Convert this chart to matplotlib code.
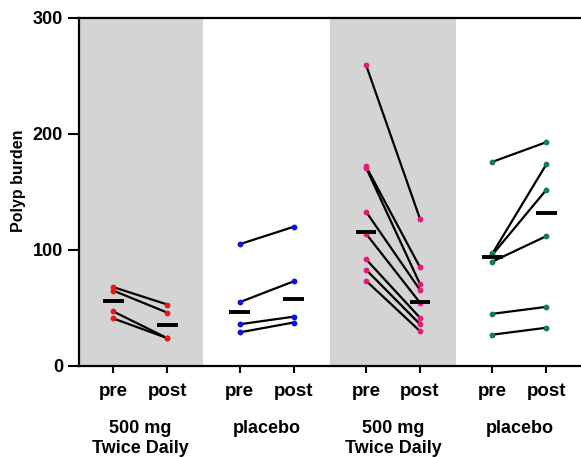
import matplotlib
matplotlib.use("Agg")
import matplotlib.pyplot as plt

plt.rcParams['font.family'] = ['Liberation Sans', 'DejaVu Sans']
plt.rcParams['font.weight'] = 'bold'

# ---- data ----
group_labels = ["500 mg\nTwice Daily", "placebo", "500 mg\nTwice Daily", "placebo"]
tick_labels = ["pre", "post"]

g1_pre = [68, 65, 47, 41]
g1_post = [53, 46, 24, 24]
g2_pre = [105, 55, 36, 29]
g2_post = [120, 73, 42.5, 37.5]
g3_pre = [259.5, 172, 171, 133, 114, 92, 83, 73.5]
g3_post = [126.7, 85, 70.5, 65.5, 54.5, 41.5, 36, 30]
g4_pre = [176, 97, 96, 90, 45, 27]
g4_post = [193, 174, 152, 112, 51, 33]

median_pre = [56, 46.5, 115.8, 93.7]
median_post = [35.5, 58, 55.2, 132.2]

colors = ["#f01414", "#1010e0", "#e61a7c", "#177a50"]
shaded = [True, False, True, False]

pres = [g1_pre, g2_pre, g3_pre, g4_pre]
posts = [g1_post, g2_post, g3_post, g4_post]

# ---- layout ----
W, H = 581, 457
fig = plt.figure(figsize=(W / 100, H / 100), dpi=100)
ax = fig.add_axes([79 / W, (H - 366) / H, (W - 79) / W, (366 - 18) / H])

step = 2.34
xmin, xmax = -0.635, 8.66
ax.set_xlim(xmin, xmax)
ax.set_ylim(0, 300)

xticks = []
xticklabels = []
for g in range(4):
    x0 = g * step
    x1 = x0 + 1
    if shaded[g]:
        ax.axvspan(x0 - 0.67, x0 + 1.667, color="#d4d4d4", lw=0, zorder=0)
    for a, b in zip(pres[g], posts[g]):
        ax.plot([x0, x1], [a, b], color="black", lw=1.6, zorder=2,
                solid_capstyle="butt")
    ax.plot([x0] * len(pres[g]), pres[g], 'o', color=colors[g], ms=4.2,
            mec='none', zorder=3)
    ax.plot([x1] * len(posts[g]), posts[g], 'o', color=colors[g], ms=4.2,
            mec='none', zorder=3)
    hw = 0.19
    ax.plot([x0 - hw, x0 + hw], [median_pre[g]] * 2, color="black", lw=2.8,
            zorder=4, solid_capstyle="butt")
    ax.plot([x1 - hw, x1 + hw], [median_post[g]] * 2, color="black", lw=2.8,
            zorder=4, solid_capstyle="butt")
    xticks += [x0, x1]
    xticklabels += tick_labels
    ax.text(x0 + 0.5, -46.5, group_labels[g], ha="center", va="top",
            fontsize=13, fontweight="bold", linespacing=1.2)

ax.set_xticks(xticks)
ax.set_xticklabels(xticklabels, fontsize=13.5, fontweight="bold")
ax.set_yticks([0, 100, 200, 300])
ax.set_yticklabels(["0", "100", "200", "300"], fontsize=13, fontweight="bold")
ax.tick_params(axis="y", length=8, width=1.5, pad=3.5)
ax.tick_params(axis="x", length=5, width=1.5, pad=7)

ax.set_ylabel("Polyp burden", fontsize=11.5, fontweight="bold")
ax.yaxis.set_label_coords(-0.106, 0.532)

for s in ["left", "bottom", "top"]:
    ax.spines[s].set_linewidth(1.6)
ax.spines["right"].set_visible(False)
ax.set_facecolor("white")

fig.savefig("out.png", dpi=100)
